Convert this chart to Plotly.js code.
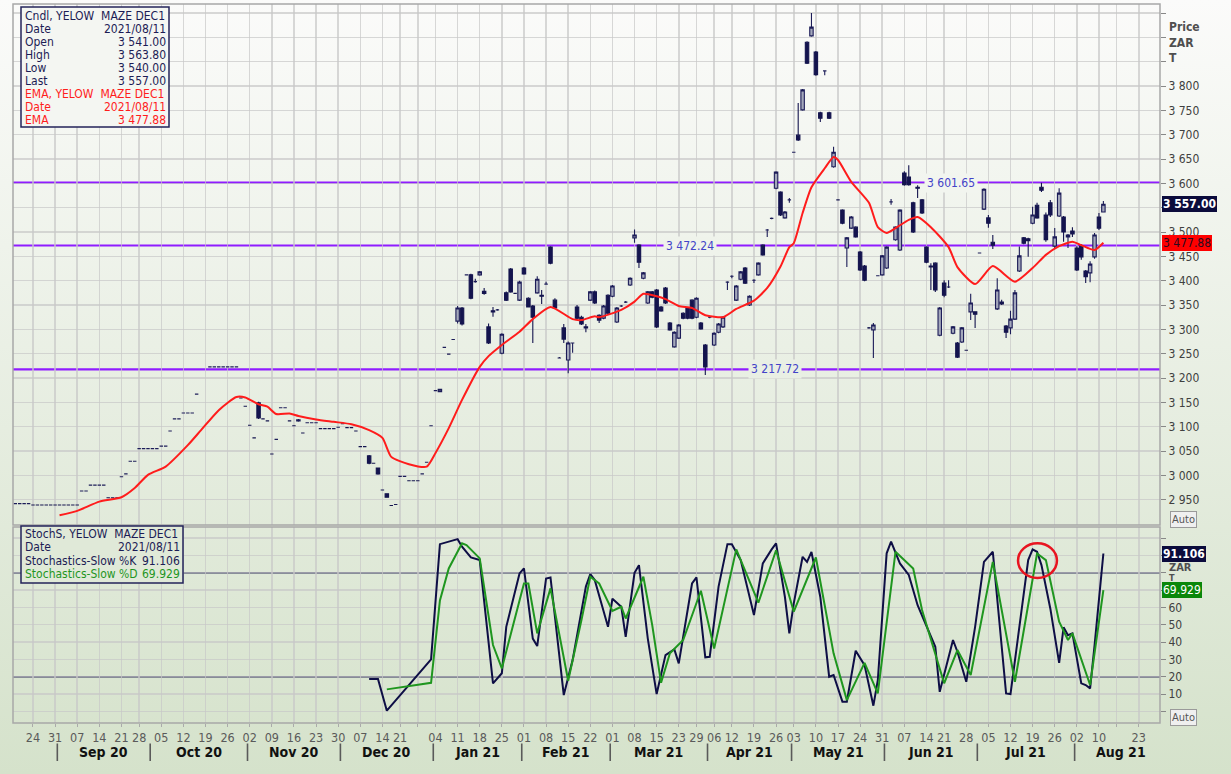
<!DOCTYPE html>
<html><head><meta charset="utf-8">
<script src="https://cdn.plot.ly/plotly-3.0.1.min.js"></script>
<style>
html,body{margin:0;padding:0;}
body{width:1231px;height:774px;overflow:hidden;}
#chart{width:1231px;height:774px;}
</style></head><body><div id="chart"></div>
<script>
// ---------- calendar (JSE trading days) ----------
const holidays = ['2020-09-24','2020-12-16','2020-12-25','2021-01-01','2021-03-22','2021-04-02','2021-04-05','2021-04-27','2021-06-16','2021-08-09'];
function tradingDays(start, end){
  const out=[]; const d=new Date(start+'T00:00:00Z'); const e=new Date(end+'T00:00:00Z');
  while(d<=e){ const wd=d.getUTCDay(); const s=d.toISOString().slice(0,10);
    if(wd!==0 && wd!==6 && holidays.indexOf(s)<0) out.push(s);
    d.setUTCDate(d.getUTCDate()+1); }
  return out;
}
const calendar = tradingDays('2020-08-18','2021-08-31');

// ---------- candle data, one entry per trading day from 2020-08-18 ----------
const open = [
 2942,2942,2942,2942,
 2939,2939,2939,2939,2939, 2939,2939,2939,2939,2939, 2939,2968,2968,2980,2980, 2980,2980,2954,2954,2954, 2997,3003,3029,3029,
 3055,3055,3055,3055,3055, 3060,3060,3091,3116,3116, 3128,3128,3128,3167,null, null,3223,3223,3223,3223, 3223,3223,3223,3159,3142,
 3103,3077,3149,3116,3112, 3044,3074,3139,3139,3112, 3102,3112,3087,3108,3108, 3108,3096,3096,3096,3096,
 3099,3106,3098,3098,3091, 3059,3059,3040,3025,3015, 2970,2962,2938,2940, 2998,2998,2989,2989, 2989,3003,3027,3102,
 3174,3172,3263,3249,3279, 3317,3344,3412,3412,3398, 3412,3378,3305,3338,3340, 3251,3375,3424,3374,3360,
 3426,3364,3348,3375,3370, 3393,3469,3360,3241,3303, 3237,3272,3346,3325,3305, 3360,3377,3329,3323,3370,
 3368,3315,3348,3356,3391, 3488,3473,3405,3354,3377, 3381,3346,3385,3313,3264, 3282,3333,3344,3360, 3325,3313,3268,3325,
 3268,3294,3305,3397, 3409,3360,3403,3426,3350, 3401,3412,3473,3504,3528, 3590,3582,3529,3566,
 3664,3699,3751,3890,3903, 3870,3745,3831,3745,3634, 3566,3545,3467,3508,3510, 3459,3430,3303,3299,3410,
 3412,3426,3562,3484,3463, 3621,3613,3560,3592,3566, 3469,3430,3436,3288, 3395,3387,3292,3272,3274,
 3257,3336,3336,3457,3547, 3529,3479,3342,3356,3307, 3303,3321,3420,3488,3486, 3518,3555,3592,3535,3560,
 3471,3533,3531,3490,3502, 3467,3471,3420,3416,3449, 3531,3541];
const high = [
 2942,2942,2942,2942,
 2939,2939,2939,2939,2939, 2939,2939,2939,2939,2939, 2939,2968,2968,2980,2980, 2980,2980,2954,2954,2954, 2997,3003,3029,3029,
 3055,3055,3055,3055,3055, 3060,3060,3091,3116,3116, 3128,3128,3128,3167,null, null,3223,3223,3223,3223, 3223,3223,3223,3159,3142,
 3103,3077,3151,3116,3112, 3044,3074,3139,3139,3112, 3102,3116,3087,3108,3108, 3108,3096,3096,3096,3096,
 3099,3106,3098,3098,3091, 3059,3059,3042,3025,3016, 2970,2963,2938,2940, 2998,2998,2989,2989, 2989,3003,3027,3102,
 3174,3178,3263,3249,3279, 3348,3346,3412,3414,3404, 3420,3385,3312,3346,3342, 3292,3378,3426,3374,3400,
 3428,3366,3350,3409,3381, 3398,3471,3364,3243,3311, 3275,3273,3350,3328,3311, 3379,3380,3331,3350,3372,
 3391,3346,3350,3358,3407, 3505,3475,3418,3379,3379, 3383,3348,3387,3315,3296, 3311,3335,3346,3362, 3366,3315,3270,3327,
 3294,3313,3327,3399, 3411,3391,3420,3428,3370, 3403,3438,3475,3506,3530, 3625,3584,3543,3570,
 3665,3765,3794,3892,3950, 3872,3747,3832,3747,3675, 3567,3547,3490,3533,3512, 3461,3432,3305,3313,3411,
 3453,3471,3568,3512,3547, 3625,3637,3562,3596,3568, 3471,3436,3438,3346, 3401,3401,3307,3274,3305,
 3258,3373,3337,3458,3590, 3535,3494,3405,3361,3309, 3338,3381,3470,3490,3488, 3552,3560,3601,3540,3566,
 3508,3590,3533,3496,3510, 3471,3475,3422,3440,3498, 3539,3563.8];
const low = [
 2942,2942,2942,2942,
 2939,2939,2939,2939,2939, 2939,2939,2939,2939,2939, 2939,2968,2968,2980,2980, 2980,2980,2954,2954,2954, 2997,3003,3029,3029,
 3055,3055,3055,3055,3055, 3060,3060,3091,3116,3116, 3128,3128,3128,3167,null, null,3223,3223,3223,3223, 3223,3223,3223,3159,3142,
 3103,3077,3116,3116,3112, 3044,3074,3139,3139,3112, 3102,3110,3087,3108,3108, 3108,3096,3096,3096,3096,
 3099,3106,3098,3098,3091, 3059,3059,3023,3025,3001, 2970,2954,2938,2940, 2998,2998,2989,2989, 2989,3003,3027,3102,
 3174,3171,3263,3249,3279, 3312,3308,3412,3362,3396, 3410,3371,3270,3326,3338, 3249,3358,3375,3374,3358,
 3412,3346,3272,3373,3352, 3392,3434,3342,3240,3272, 3210,3252,3321,3309,3294, 3358,3352,3313,3321,3331,
 3366,3313,3346,3354,3389, 3478,3426,3403,3352,3364, 3303,3336,3352,3297,3262, 3280,3321,3321,3321, 3323,3299,3206,3323,
 3266,3292,3303,3381, 3405,3358,3401,3393,3348, 3395,3410,3451,3490,3526, 3588,3533,3527,3560,
 3663,3687,3749,3845,3901, 3821,3726,3822,3732,3632, 3565,3516,3428,3506,3488, 3420,3399,3301,3241,3409,
 3410,3424,3556,3482,3461, 3595,3595,3498,3570,3537, 3436,3381,3377,3286, 3366,3385,3290,3241,3272,
 3256,3319,3303,3456,3545, 3509,3465,3340,3350,3282, 3290,3319,3418,3475,3449, 3516,3527,3582,3480,3531,
 3465,3531,3480,3467,3490, 3420,3443,3395,3397,3445, 3504,3540];
const close = [
 2942,2942,2942,2942,
 2939,2939,2939,2939,2939, 2939,2939,2939,2939,2939, 2939,2968,2968,2980,2980, 2980,2980,2954,2954,2954, 2997,3003,3029,3029,
 3055,3055,3055,3055,3055, 3060,3060,3091,3116,3116, 3128,3128,3128,3167,null, null,3223,3223,3223,3223, 3223,3223,3223,3159,3142,
 3103,3077,3118,3116,3112, 3044,3074,3139,3139,3112, 3102,3114,3087,3108,3108, 3108,3096,3096,3096,3096,
 3099,3106,3098,3098,3091, 3059,3059,3025,3025,3003, 2970,2955,2938,2940, 2998,2998,2989,2989, 2989,3003,3027,3102,
 3174,3177,3263,3249,3279, 3344,3311,3412,3364,3398, 3418,3374,3272,3336,3340, 3290,3360,3377,3374,3397,
 3414,3346,3325,3403,3368, 3393,3436,3344,3241,3280, 3272,3272,3323,3311,3303, 3377,3354,3319,3348,3333,
 3389,3344,3348,3356,3405, 3494,3438,3416,3377,3366, 3305,3338,3354,3299,3294, 3309,3323,3323,3323, 3364,3301,3223,3325,
 3292,3311,3325,3397, 3409,3389,3418,3395,3368, 3401,3436,3453,3504,3528, 3623,3535,3541,3566,
 3664,3689,3792,3847,3921, 3823,3734,3831,3734,3664, 3566,3518,3488,3531,3490, 3422,3401,3303,3309,3410,
 3451,3469,3562,3510,3545, 3597,3597,3500,3590,3539, 3438,3428,3381,3344, 3370,3387,3305,3243,3303,
 3257,3354,3331,3457,3588, 3518,3473,3381,3352,3294, 3321,3375,3451,3477,3482, 3535,3529,3586,3484,3535,
 3490,3580,3500,3494,3496, 3422,3449,3408,3434,3494, 3508,3557];

// ---------- indicator readings (day number counted from 2020-08-24) ----------
const emaDay = [6,10,15,20,23,26,30,35,38,42,46,48,51,53,55,58,60,64,68,72,76,79,81,85,89,91,94,97,101,103,106,110,113,117,122,124,127,128,133,136,138,141,143,146,149,152,156,159,163,166,169,171,172,174,176,179,181,182,185,189,191,193,195,198,200,203,207,209,213,217,222,226,229,232,235,237,240,242];
const emaVal = [2918,2927,2946,2955,2974,3001,3018,3062,3093,3134,3161,3160,3146,3141,3126,3127,3122,3115,3110,3105,3093,3077,3038,3023,3018,3046,3097,3155,3223,3245,3268,3295,3321,3346,3321,3319,3327,3325,3340,3357,3373,3368,3362,3348,3344,3329,3325,3342,3359,3385,3429,3469,3477,3539,3592,3631,3654,3648,3603,3560,3510,3498,3508,3525,3531,3510,3469,3428,3393,3430,3398,3426,3453,3471,3480,3473,3463,3477.88];
const kDay = [76,78,80,90,92,96,97,99,101,104,106,107,110,111,113,114,116,117,120,122,125,126,127,130,131,133,134,136,137,139,141,143,145,146,149,150,152,153,155,157,158,160,163,165,167,168,170,171,172,174,175,176,178,180,181,183,184,186,188,190,191,193,194,196,198,200,204,205,208,209,211,213,215,217,220,221,225,226,227,228,230,232,233,234,235,237,238,239,240,241,242];
const kVal = [18.7,18.7,0.4,30,96.5,99.4,95,88.8,87.3,16.2,22,48.8,79.6,82.5,42,37.7,76.7,77.3,9.4,29.6,72,79.2,75.8,48.8,65,60.4,43,80,84.4,42,10,32.5,35.8,27.7,73.8,77.3,31.2,31.5,72,96.5,96.5,87.3,55.6,85.4,93.5,97,66,45,62.3,89.2,86.3,92,66,20,21,5.6,5.6,35,26.7,3.3,18,91.2,97.9,85.4,78.7,61.3,37.3,11.3,41.2,34.4,17.1,48.8,86.3,92.1,10.4,10,87.3,93.5,92.1,84.4,59.4,28,48.5,44,45,16.2,15.2,13.3,38,66,91.106];
const dDay = [80,90,92,94,97,98,101,102,104,106,108,111,112,114,117,121,124,126,128,131,133,134,138,140,142,144,147,151,154,159,164,168,172,177,181,184,188,191,195,199,201,206,209,212,217,222,227,229,232,234,235,239,242];
const dVal = [12.7,16.5,64,82.5,97,96,88.3,72,38.3,24.8,44,73.8,73.8,45,71,17.7,52.7,77.7,73.8,58,60.4,53.6,77.7,49.8,16.5,33.5,41.2,69.6,36.3,93.5,62.7,93,57.5,88.8,33.5,6.5,28,10.4,92.1,82.5,58.5,16.2,35.4,21,86.3,17.1,91.1,87.3,51.7,41.2,45,15.2,69.929];

const levels = [3601.65, 3472.24, 3217.72];
const tickDates = ['2020-08-24','2020-08-31','2020-09-07','2020-09-14','2020-09-21','2020-09-28','2020-10-05','2020-10-12','2020-10-19','2020-10-26','2020-11-02','2020-11-09','2020-11-16','2020-11-23','2020-11-30','2020-12-07','2020-12-14','2020-12-21','2020-12-28','2021-01-04','2021-01-11','2021-01-18','2021-01-25','2021-02-01','2021-02-08','2021-02-15','2021-02-22','2021-03-01','2021-03-08','2021-03-15','2021-03-23','2021-03-29','2021-04-06','2021-04-12','2021-04-19','2021-04-26','2021-05-03','2021-05-10','2021-05-17','2021-05-24','2021-05-31','2021-06-07','2021-06-14','2021-06-21','2021-06-28','2021-07-05','2021-07-12','2021-07-19','2021-07-26','2021-08-02','2021-08-10','2021-08-16','2021-08-23'];
const tickText = ['24','31','07','14','21','28','05','12','19','26','02','09','16','23','30','07','14','21','','04','11','18','25','01','08','15','22','01','08','15','23','29','06','12','19','26','03','10','17','24','31','07','14','21','28','05','12','19','26','02','10','','23'];
const monthNames = ['Jan','Feb','Mar','Apr','May','Jun','Jul','Aug','Sep','Oct','Nov','Dec'];

// ---------- helpers ----------
const DAY0 = calendar.indexOf('2020-08-24');
const dates = calendar.slice(0, open.length);
const onDay = n => calendar[n + DAY0];
function fmt(v, dec){ const s=v.toFixed(dec); const p=s.split('.'); return p[0].replace(/\B(?=(\d{3})+(?!\d))/g,' ')+(p.length>1?'.'+p[1]:''); }
const PL=13, PR=1160, PT=4, PB=723;
const pxX = px => (px-PL)/(PR-PL);
const pxY = py => (PB-py)/(PB-PT);
const TOP=[251,251,250], BOT=[213,226,203];
function bgAt(py){ const f=py/774; const c=TOP.map((t,i)=>Math.round(t+(BOT[i]-t)*f)); return 'rgb('+c.join(',')+')'; }
document.body.style.background = 'linear-gradient(to bottom, rgb('+TOP.join(',')+') 0%, rgb('+BOT.join(',')+') 100%)';

const FONT = "'DejaVu Sans Condensed', 'DejaVu Sans', sans-serif";
const NAVY='#1c1c55', RED='#ff1c1c', GREEN='#1f961f', PURPLE='#8f1cff';
const n = open.length;

// ---------- traces ----------
const traces = [
 {type:'candlestick', x:dates, open:open, high:high, low:low, close:close, xaxis:'x', yaxis:'y',
  increasing:{line:{color:'#1c1c58', width:1.1}, fillcolor:'#a4a8bb'},
  decreasing:{line:{color:'#14144e', width:1.1}, fillcolor:'#14144e'},
  whiskerwidth:0, hoverinfo:'skip', showlegend:false},
 {type:'scatter', mode:'lines', x:emaDay.map(onDay), y:emaVal, xaxis:'x', yaxis:'y', connectgaps:true,
  line:{color:RED, width:2, shape:'spline', smoothing:0.6}, hoverinfo:'skip'},
 {type:'scatter', mode:'lines', x:kDay.map(onDay), y:kVal, xaxis:'x', yaxis:'y2',
  line:{color:'#0e0e45', width:2}, hoverinfo:'skip'},
 {type:'scatter', mode:'lines', x:dDay.map(onDay), y:dVal, xaxis:'x', yaxis:'y2',
  line:{color:GREEN, width:2}, hoverinfo:'skip'}
];

// ---------- shapes ----------
const shapes = [];
const yTopSplit = pxY(525), yLowTop = pxY(527);
levels.forEach(v=>shapes.push({type:'line', xref:'paper', yref:'y', x0:0, x1:1, y0:v, y1:v, line:{color:PURPLE, width:2.2}, layer:'between'}));
[20,80].forEach(v=>shapes.push({type:'line', xref:'paper', yref:'y2', x0:0, x1:1, y0:v, y1:v, line:{color:'#35355e', width:1.4}, layer:'between'}));
shapes.push({type:'rect', xref:'paper', yref:'paper', x0:0, x1:1, y0:yTopSplit, y1:1, line:{color:'#a8a8a8', width:1.5}});
shapes.push({type:'rect', xref:'paper', yref:'paper', x0:0, x1:1, y0:0, y1:yLowTop, line:{color:'#a8a8a8', width:1.5}});
shapes.push({type:'rect', xref:'paper', yref:'paper', x0:pxX(21), x1:pxX(169), y0:pxY(127), y1:pxY(7), fillcolor:'#f4f6f2', line:{color:'#23235a', width:1.5}});
shapes.push({type:'rect', xref:'paper', yref:'paper', x0:pxX(21), x1:pxX(183), y0:pxY(583), y1:pxY(526), fillcolor:bgAt(555), line:{color:'#23235a', width:1.5}});
shapes.push({type:'circle', xref:'x', yref:'y2', x0:222.7+DAY0, x1:231.5+DAY0, y0:77, y1:97, line:{color:'#e81420', width:2.5}});

// ---------- annotations ----------
const ann = [];
const levelPos = [[207.6,183],[148.5,244],[167.8,368]];
levels.forEach((v,i)=>ann.push({xref:'x', yref:'y', x:levelPos[i][0]+DAY0, y:v, text:fmt(v,2), showarrow:false,
  font:{family:FONT, size:12, color:'#4343c8'}, bgcolor:bgAt(levelPos[i][1]), borderpad:2}));
ann.push({xref:'paper', yref:'paper', x:pxX(1167), y:pxY(43), xanchor:'left', yanchor:'middle', align:'left', showarrow:false,
  text:'<b>Price</b><br><b>ZAR</b><br><b>T</b>', font:{family:FONT, size:12, color:'#4f4f4f'}});
ann.push({xref:'paper', yref:'paper', x:pxX(1167), y:pxY(567), xanchor:'left', yanchor:'middle', showarrow:false,
  text:'<b>ZAR</b>', font:{family:FONT, size:11, color:'#4f4f4f'}});
ann.push({xref:'paper', yref:'paper', x:pxX(1167), y:pxY(578), xanchor:'left', yanchor:'middle', showarrow:false,
  text:'<b>T</b>', font:{family:FONT, size:9, color:'#4f4f4f'}});
function valBox(yref, y, text, bg, col, bold){ ann.push({xref:'paper', yref:yref, x:pxX(1162), y:y, xanchor:'left', yanchor:'middle', showarrow:false,
  text: bold?'<b>'+text+'</b>':text, bgcolor:bg, bordercolor:bg, borderpad:0, font:{family:FONT, size:12, color:col}}); }
valBox('y', close[n-1], fmt(close[n-1],2), '#0b0b3c', '#ffffff', true);
valBox('y', emaVal[emaVal.length-1], fmt(emaVal[emaVal.length-1],2), '#ff0000', '#2a0a20', false);
valBox('y2', kVal[kVal.length-1], kVal[kVal.length-1].toFixed(3), '#0b0b3c', '#ffffff', true);
valBox('y2', dVal[dVal.length-1], dVal[dVal.length-1].toFixed(3), '#0a870a', '#ffffff', false);
[519, 717].forEach(py=>ann.push({xref:'paper', yref:'paper', x:pxX(1170), y:pxY(py), xanchor:'left', yanchor:'middle', showarrow:false,
  text:'Auto', font:{family:FONT, size:11, color:'#555'}, bgcolor:'#efefef', bordercolor:'#9a9a9a', borderwidth:1, borderpad:1}));
const lastDate = dates[n-1].replace(/-/g,'/');
const NB = '\u00a0\u00a0';
const info1 = [
 ['Cndl, YELOW'+NB+'MAZE DEC1','',NAVY],['Date',lastDate,NAVY],['Open',fmt(open[n-1],2),NAVY],['High',fmt(high[n-1],2),NAVY],
 ['Low',fmt(low[n-1],2),NAVY],['Last',fmt(close[n-1],2),NAVY],['EMA, YELOW'+NB+'MAZE DEC1','',RED],['Date',lastDate,RED],['EMA',fmt(emaVal[emaVal.length-1],2),RED]];
info1.forEach((r,i)=>{ const py=15.5+i*13.1;
  ann.push({xref:'paper', yref:'paper', x:pxX(23), y:pxY(py), xanchor:'left', yanchor:'middle', showarrow:false, text:r[0], font:{family:FONT, size:12, color:r[2]}});
  if(r[1]) ann.push({xref:'paper', yref:'paper', x:pxX(168), y:pxY(py), xanchor:'right', yanchor:'middle', showarrow:false, text:r[1], font:{family:FONT, size:12, color:r[2]}});
});
const info2 = [
 ['StochS, YELOW'+NB+'MAZE DEC1','',NAVY],['Date',lastDate,NAVY],['Stochastics-Slow %K',kVal[kVal.length-1].toFixed(3),NAVY],['Stochastics-Slow %D',dVal[dVal.length-1].toFixed(3),GREEN]];
info2.forEach((r,i)=>{ const py=534+i*13.4;
  ann.push({xref:'paper', yref:'paper', x:pxX(23), y:pxY(py), xanchor:'left', yanchor:'middle', showarrow:false, text:r[0], font:{family:FONT, size:12, color:r[2]}});
  if(r[1]) ann.push({xref:'paper', yref:'paper', x:pxX(182), y:pxY(py), xanchor:'right', yanchor:'middle', showarrow:false, text:r[1], font:{family:FONT, size:12, color:r[2]}});
});
const mStarts=[]; let prevM=null;
calendar.forEach((d,i)=>{ const m=d.slice(0,7); if(m!==prevM){ mStarts.push(i); prevM=m; } });
for(let k=1;k<mStarts.length;k++){
  const s=mStarts[k], e=(k+1<mStarts.length?mStarts[k+1]:calendar.length)-1;
  const d=calendar[s];
  ann.push({xref:'x', yref:'paper', x:s-0.5, y:pxY(761), ax:0, ay:-19, showarrow:true, arrowhead:0, arrowwidth:1.6, arrowcolor:'#5a5a5a', text:''});
  ann.push({xref:'x', yref:'paper', x:(s+e)/2, y:pxY(752), yanchor:'middle', showarrow:false,
    text:'<b>'+monthNames[+d.slice(5,7)-1]+' '+d.slice(2,4)+'</b>', font:{family:FONT, size:14, color:'#111'}});
}

// ---------- axes ----------
const priceTicks=[]; for(let v=2950; v<=3950; v+=50) priceTicks.push(v);
const priceText = priceTicks.map(v=> (v<=3800 && v!==3550) ? fmt(v,0) : '');
const stochTicks=[0,10,20,30,40,50,60,70,80,90,100];
const stochText = stochTicks.map(v=> (v>=10 && v<=60) ? String(v) : '');
const GRID='rgba(200,200,200,0.7)';

const layout = {
  width:1231, height:774, margin:{l:PL, r:1231-PR, t:PT, b:774-PB},
  paper_bgcolor:'rgba(0,0,0,0)', plot_bgcolor:'rgba(0,0,0,0)',
  showlegend:false, hovermode:false, separators:'. ', boxgap:0.12, boxgroupgap:0.12,
  font:{family:FONT, size:12, color:'#444'},
  xaxis:{type:'category', categoryorder:'array', categoryarray:calendar, range:[-0.52, 258.8], anchor:'y2',
    tickmode:'array', tickvals:tickDates, ticktext:tickText, tickfont:{family:FONT, size:12.5, color:'#5a5a5a'},
    ticks:'outside', ticklen:3, tickcolor:'#aaa', showgrid:true, gridcolor:GRID, gridwidth:1.5,
    showline:false, zeroline:false, rangeslider:{visible:false}, fixedrange:true},
  yaxis:{domain:[yTopSplit,1], range:[2898,3968.5], side:'right', anchor:'x', tickmode:'array', tickvals:priceTicks, ticktext:priceText,
    ticks:'outside', ticklen:5, tickcolor:'#888', showgrid:true, gridcolor:GRID, gridwidth:1.5, zeroline:false,
    tickfont:{family:FONT, size:12, color:'#404040'}, fixedrange:true},
  yaxis2:{domain:[0,yLowTop], range:[-6.7,106.4], side:'right', anchor:'x', tickmode:'array', tickvals:stochTicks, ticktext:stochText,
    ticks:'outside', ticklen:5, tickcolor:'#888', showgrid:true, gridcolor:GRID, gridwidth:1.2, zeroline:false,
    tickfont:{family:FONT, size:12, color:'#404040'}, fixedrange:true},
  shapes:shapes, annotations:ann
};
Plotly.newPlot('chart', traces, layout, {displayModeBar:false, staticPlot:true});
</script></body></html>
